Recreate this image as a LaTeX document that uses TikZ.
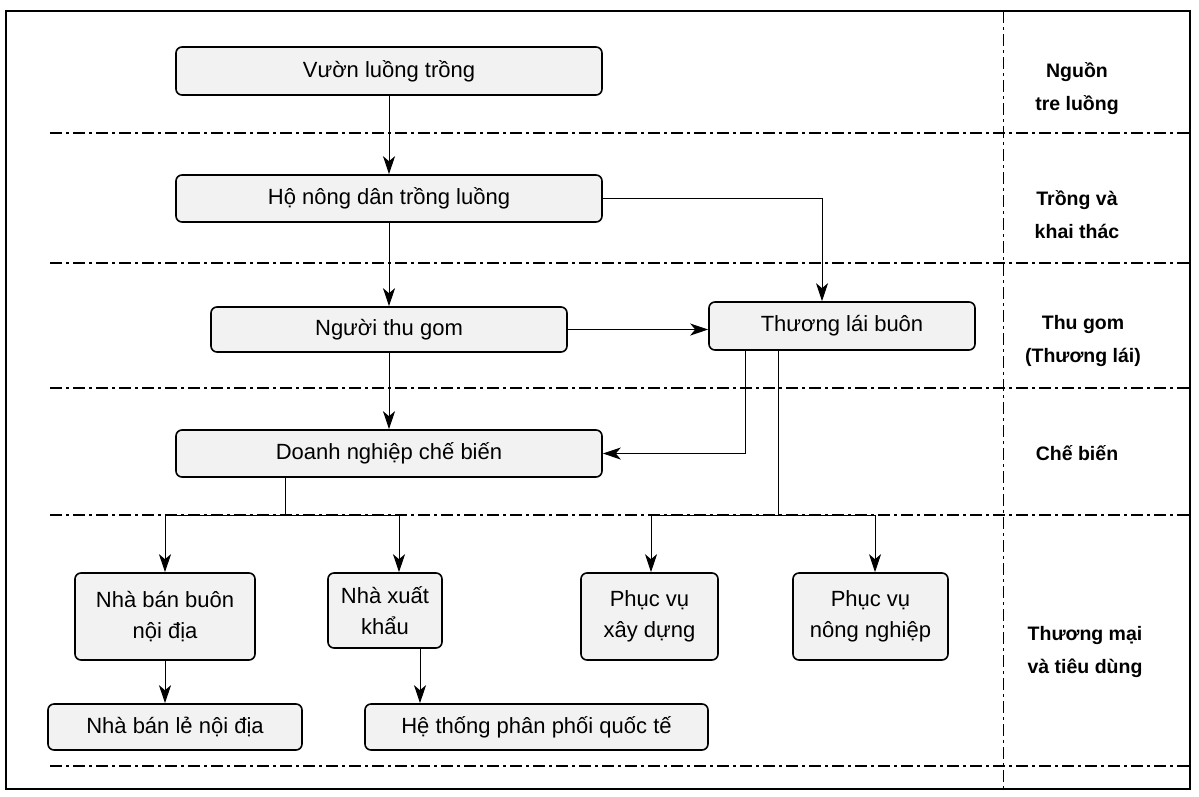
\documentclass[tikz,border=0pt]{standalone}
\usepackage{fontspec}
\setmainfont{Liberation Sans}
\usetikzlibrary{arrows.meta}
\begin{document}
\begin{tikzpicture}[x=1pt,y=-1pt,
  bx/.style={draw,line width=1.6pt,rounded corners=6pt,fill=gray!10,font=\fontsize{22}{31}\selectfont,align=center,inner sep=0},
  ar/.style={line width=1pt,-{Stealth[length=18pt,width=12pt,inset=5pt]}},
  ln/.style={line width=1pt},
  sep/.style={line width=1.2pt,dash pattern=on 12pt off 4pt on 3pt off 4pt},
  lab/.style={font=\bfseries\fontsize{19.5}{33}\selectfont,align=center}]
\useasboundingbox (0,0) rectangle (1199,796);
\draw[line width=1.2pt] (6,11) rectangle (1190,789);
\draw[ln,dash pattern=on 12pt off 4pt on 3pt off 4pt] (1003,11) -- (1003,789);
\foreach \y in {133,263,388,515,766} \draw[sep] (50,\y) -- (1190,\y);
\node[bx,minimum width=426pt,minimum height=48pt] (v) at (389,71) {Vườn luồng trồng};
\node[bx,minimum width=426pt,minimum height=47pt] (h) at (389,198.5) {Hộ nông dân trồng luồng};
\node[bx,minimum width=356pt,minimum height=45pt] (n) at (389,329.5) {Người thu gom};
\node[bx,minimum width=266pt,minimum height=48pt] (t) at (842,326) {Thương lái buôn};
\node[bx,minimum width=426pt,minimum height=47pt] (d) at (389,453.5) {Doanh nghiệp chế biến};
\node[bx,minimum width=180pt,minimum height=87pt] (bb) at (165,616.5) {Nhà bán buôn\\nội địa};
\node[bx,minimum width=114pt,minimum height=75pt] (xk) at (385,610.5) {Nhà xuất\\khẩu};
\node[bx,minimum width=137pt,minimum height=87pt] (xd) at (649.5,616.5) {Phục vụ\\xây dựng};
\node[bx,minimum width=155pt,minimum height=87pt] (nn) at (870.5,616.5) {Phục vụ\\nông nghiệp};
\node[bx,minimum width=254pt,minimum height=46pt] (bl) at (175,727) {Nhà bán lẻ nội địa};
\node[bx,minimum width=343pt,minimum height=46pt] (ht) at (536.5,727) {Hệ thống phân phối quốc tế};
\node[lab] (l1) at (1077,89) {Nguồn\\tre luồng};
\node[lab] (l2) at (1077,215) {Trồng và\\khai thác};
\node[lab] (l3) at (1083,341) {Thu gom\\(Thương lái)};
\node[lab] (l4) at (1077,453) {Chế biến};
\node[lab] (l5) at (1085,652) {Thương mại\\và tiêu dùng};
\draw[ar] (v.south) -- (h.north);
\draw[ar] (h.south) -- (n.north);
\draw[ar] (h.east) -| (t.north -| 822,0);
\draw[ar] (n.east) -- (t.west |- n.east);
\draw[ar] (n.south) -- (d.north);
\draw[ar] (t.south -| 745,0) |- (d.east);
\coordinate (tj) at (778,515);
\draw[ln] (t.south -| 778,0) -- (tj);
\draw[ar] (tj) -| (xd.north -| 651,0);
\draw[ar] (tj) -| (nn.north -| 875,0);
\coordinate (dj) at (285,515);
\draw[ln] (d.south -| 285,0) -- (dj);
\draw[ar] (dj) -| (bb.north);
\draw[ar] (dj) -| (xk.north -| 399,0);
\draw[ar] (bb.south) -- (bl.north -| bb.south);
\draw[ar] (xk.south -| 420,0) -- (ht.north -| 420,0);
\end{tikzpicture}
\end{document}
